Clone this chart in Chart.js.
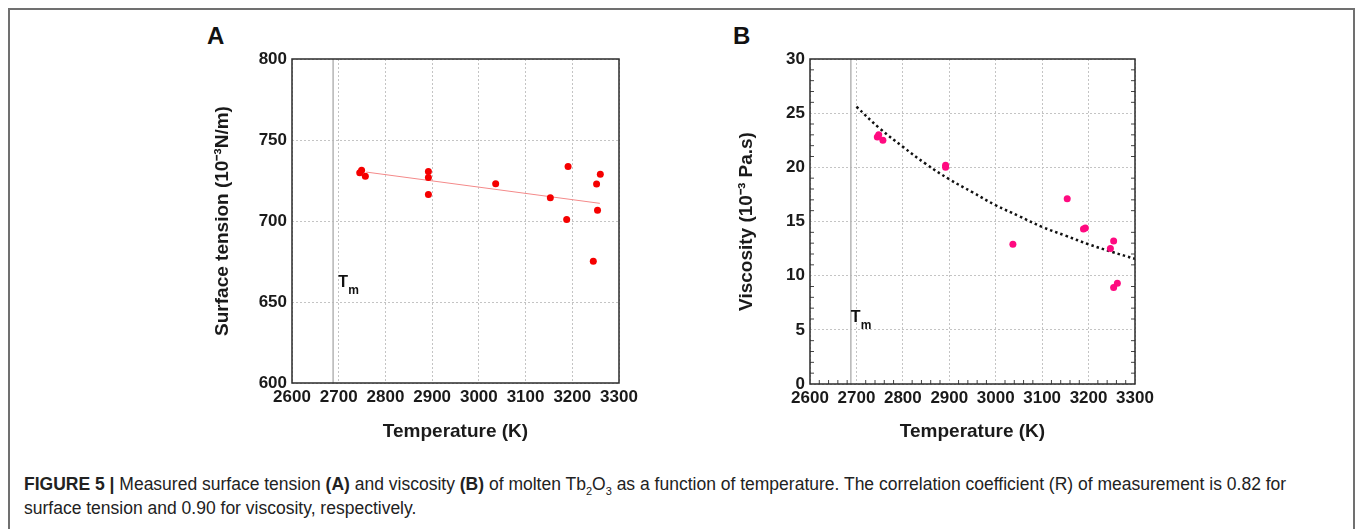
<!DOCTYPE html>
<html>
<head>
<meta charset="utf-8">
<script src="https://cdn.jsdelivr.net/npm/chart.js@4.4.1/dist/chart.umd.min.js"></script>
<style>
  body { margin: 0; background: #fff; width: 1355px; height: 529px; overflow: hidden; position: relative;
         font-family: "Liberation Sans", Arial, sans-serif; }
  #frame { position: absolute; left: 8px; top: 8px; width: 1347px; height: 530px;
           border: 2px solid #707070; border-bottom: none; box-sizing: border-box; }
  .panel { position: absolute; font-weight: bold; font-size: 24px; line-height: 24px; color: #111; }
  canvas { position: absolute; top: 0; }
  #caption { position: absolute; left: 24px; top: 472px; font-size: 17.5px; line-height: 24px; color: #222; white-space: nowrap; }
  #caption sub { font-size: 11px; line-height: 0; }
</style>
</head>
<body>
<div id="frame"></div>
<div class="panel" style="left:207px; top:24px;">A</div>
<div class="panel" style="left:733px; top:24px;">B</div>
<canvas id="chartA" width="450" height="450" style="left:200px;"></canvas>
<canvas id="chartB" width="450" height="450" style="left:720px;"></canvas>
<div id="caption"><b>FIGURE 5 |</b> Measured surface tension <b>(A)</b> and viscosity <b>(B)</b> of molten Tb<sub>2</sub>O<sub>3</sub> as a function of temperature. The correlation coefficient (R) of measurement is 0.82 for<br>surface tension and 0.90 for viscosity, respectively.</div>
<script>
// ticks
const tempTicks = [2600, 2700, 2800, 2900, 3000, 3100, 3200, 3300];
const tensionTicks = [600, 650, 700, 750, 800];
const viscTicks = [0, 5, 10, 15, 20, 25, 30];
const meltingPoint = 2688;

// panel A - surface tension
const tensionTemp = [2745, 2749, 2757, 2892, 2892, 2892, 3036, 3153, 3188, 3191, 3245, 3252, 3254, 3260];
const tensionVal = [729.8, 731.4, 727.7, 730.6, 726.9, 716.4, 723.0, 714.4, 701.0, 733.7, 675.2, 722.8, 706.6, 728.8];
const tensionFitTemp = [2759, 3259];
const tensionFitVal = [730.2, 710.9];

// panel B - viscosity
const viscTemp = [2745, 2748, 2757, 2892, 2892, 3037, 3154, 3189, 3193, 3247, 3254, 3254, 3262];
const viscVal = [22.8, 23.0, 22.5, 20.2, 20.0, 12.9, 17.1, 14.3, 14.4, 12.5, 13.2, 8.9, 9.3];
const viscFitTemp = [2700, 2750, 2800, 2850, 2900, 2950, 3000, 3050, 3100, 3150, 3200, 3250, 3300];
const viscFitVal = [25.6, 23.6, 21.9, 20.3, 18.9, 17.7, 16.5, 15.5, 14.5, 13.7, 12.9, 12.2, 11.55];

const fam = '"Liberation Sans", Arial, sans-serif';
const pts = (xs, ys) => xs.map((x, i) => ({ x: x, y: ys[i] }));

// frame, Tm label and minor ticks
function overlay(tmAt, minorX, minorY) {
  return {
    id: 'overlay',
    afterDatasetsDraw(chart) {
      const { ctx, chartArea: a, scales } = chart;
      ctx.save();
      ctx.strokeStyle = '#444';
      ctx.lineWidth = 1;
      (minorY || []).forEach(v => {
        const y = scales.y.getPixelForValue(v);
        ctx.beginPath();
        ctx.moveTo(a.left, y); ctx.lineTo(a.left + 4, y);
        ctx.moveTo(a.right, y); ctx.lineTo(a.right - 4, y);
        ctx.stroke();
      });
      (minorX || []).forEach(v => {
        const x = scales.x.getPixelForValue(v);
        ctx.beginPath();
        ctx.moveTo(x, a.bottom); ctx.lineTo(x, a.bottom - 4);
        ctx.stroke();
      });
      ctx.strokeStyle = '#2b2b2b';
      ctx.lineWidth = 1.5;
      ctx.strokeRect(a.left, a.top, a.right - a.left, a.bottom - a.top);
      // Tm label
      const tx = scales.x.getPixelForValue(tmAt[0]);
      const ty = scales.y.getPixelForValue(tmAt[1]);
      ctx.fillStyle = '#111';
      ctx.textBaseline = 'alphabetic';
      ctx.font = 'bold 16px ' + fam;
      ctx.fillText('T', tx, ty);
      ctx.font = 'bold 12px ' + fam;
      ctx.fillText('m', tx + 10, ty + 7);
      ctx.restore();
    }
  };
}

function makeScales(yMin, yMax, yTicks, yTitle, yTitlePad, xHeight, yWidth) {
  const tickFont = { family: fam, size: 17, weight: 'bold' };
  const titleFont = { family: fam, size: 19, weight: 'bold' };
  return {
    x: {
      type: 'linear', min: 2600, max: 3300,
      afterBuildTicks: s => { s.ticks = tempTicks.map(v => ({ value: v })); },
      afterFit: s => { s.height = xHeight; },
      grid: { color: '#c4c4c4', lineWidth: 1, drawTicks: false },
      border: { display: false, dash: [2, 2] },
      ticks: { font: tickFont, color: '#1a1a1a', padding: 4, maxRotation: 0, autoSkip: false, callback: v => String(v) },
      title: { display: true, text: 'Temperature (K)', font: titleFont, color: '#1a1a1a', padding: { top: 0, bottom: 7 } }
    },
    y: {
      type: 'linear', min: yMin, max: yMax,
      afterBuildTicks: s => { s.ticks = yTicks.map(v => ({ value: v })); },
      afterFit: s => { s.width = yWidth; },
      grid: { color: '#c4c4c4', lineWidth: 1, drawTicks: false },
      border: { display: false, dash: [2, 2] },
      ticks: { font: tickFont, color: '#1a1a1a', padding: 5, callback: v => String(v) },
      title: { display: true, text: yTitle, font: titleFont, color: '#1a1a1a', padding: { top: yTitlePad, bottom: 0 } }
    }
  };
}

new Chart(document.getElementById('chartA'), {
  type: 'scatter',
  data: {
    datasets: [
      { data: pts(tensionTemp, tensionVal), backgroundColor: '#f50000', borderWidth: 0, pointRadius: 3.5, order: 0 },
      { type: 'line', data: pts(tensionFitTemp, tensionFitVal), borderColor: '#f48a8a', borderWidth: 1, pointRadius: 0, order: 1 },
      { type: 'line', data: pts([meltingPoint, meltingPoint], [600, 800]), borderColor: '#b5b5b5', borderWidth: 1.5, pointRadius: 0, order: 2 }
    ]
  },
  options: {
    responsive: false, animation: false,
    layout: { padding: { top: 59, right: 31, bottom: 0, left: 0 } },
    plugins: { legend: { display: false }, tooltip: { enabled: false } },
    scales: makeScales(600, 800, tensionTicks, 'Surface tension (10\u207B\u00B3N/m)', 11, 67, 92)
  },
  plugins: [overlay([2699, 659], null, null)]
});

const visMinorY = [];
for (let v = 1; v < 30; v++) if (v % 5) visMinorY.push(v);
const visMinorX = [];
for (let t = 2620; t < 3300; t += 20) if (t % 100) visMinorX.push(t);

new Chart(document.getElementById('chartB'), {
  type: 'scatter',
  data: {
    datasets: [
      { data: pts(viscTemp, viscVal), backgroundColor: '#ff0a80', borderWidth: 0, pointRadius: 3.5, order: 0 },
      { type: 'line', data: pts(viscFitTemp, viscFitVal), borderColor: '#111', borderWidth: 2.5, borderDash: [2.5, 3], tension: 0.4, pointRadius: 0, order: 1 },
      { type: 'line', data: pts([meltingPoint, meltingPoint], [0, 30]), borderColor: '#b5b5b5', borderWidth: 1.5, pointRadius: 0, order: 2 }
    ]
  },
  options: {
    responsive: false, animation: false,
    layout: { padding: { top: 59, right: 35, bottom: 0, left: 0 } },
    plugins: { legend: { display: false }, tooltip: { enabled: false } },
    scales: makeScales(0, 30, viscTicks, 'Viscosity (10\u207B\u00B3 Pa.s)', 15, 66, 90)
  },
  plugins: [overlay([2688, 5.7], visMinorX, visMinorY)]
});
</script>
</body>
</html>
